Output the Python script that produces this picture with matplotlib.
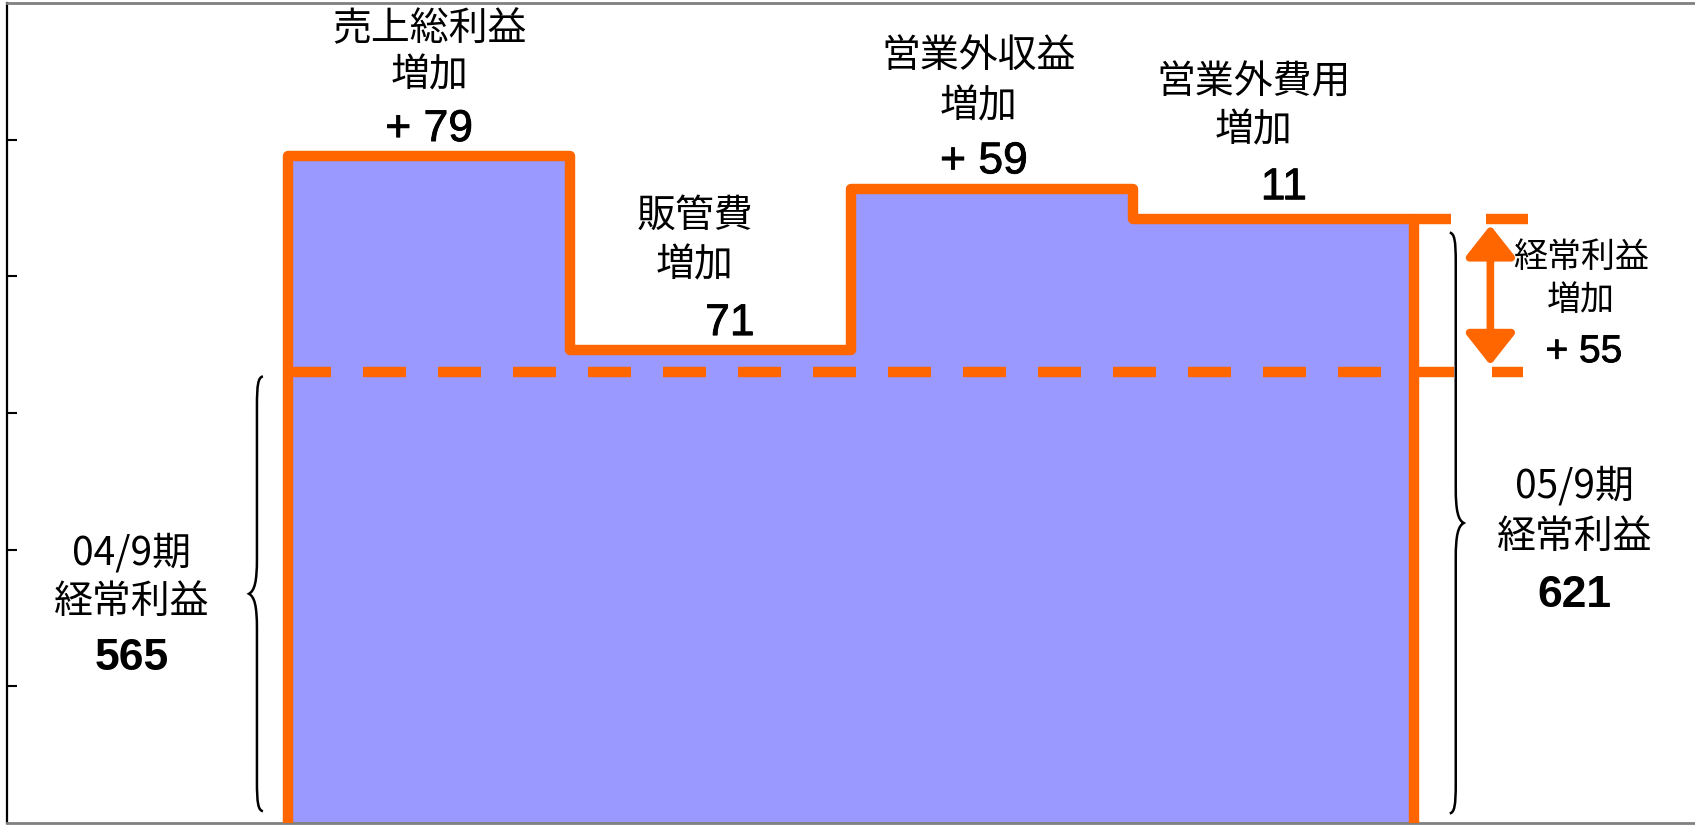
import numpy as np
import matplotlib.pyplot as plt
import matplotlib.patheffects as pe
from matplotlib.patches import FancyArrowPatch, PathPatch
from matplotlib.path import Path

# 経常利益の増減要因 (04/9期 -> 05/9期)
base_profit = 565
step_names = [["売上総利益", "増加"], ["販管費", "増加"], ["営業外収益", "増加"], ["営業外費用", "増加"]]
step_deltas = [79, -71, 59, -11]
increase_text = "+ 55"
prev_label = ["04/9期", "経常利益"]
curr_label = ["05/9期", "経常利益"]
y_ticks = [450, 500, 550, 600, 650]
y_floor, y_ceiling = 400, 700

ORANGE = "#FF6600"
FILL = "#9999FF"
CJK = ["Noto Sans CJK JP", "DejaVu Sans"]
NUM = ["Liberation Sans", "DejaVu Sans"]

levels = base_profit + np.cumsum(step_deltas)
final_profit = levels[-1]
edges = np.arange(1, len(step_deltas) + 2)
centers = edges[:-1] + 0.5

fig = plt.figure(figsize=(16.95, 8.25), dpi=100)
ax = fig.add_axes([7 / 1695, 2 / 825, 1 - 7 / 1695 + 0.0005, 820 / 825])
ax.set_xlim(0, 6)
ax.set_ylim(y_floor, y_ceiling)

# filled columns and the stepped outline
ax.bar(centers, levels - y_floor, bottom=y_floor, width=1.0, color=FILL, linewidth=0, zorder=1)
xs = np.repeat(edges, 2)
ys = np.concatenate([[y_floor], np.repeat(levels, 2), [y_floor]])
ax.plot(xs, ys, color=ORANGE, lw=7.5, solid_joinstyle="round", solid_capstyle="butt", zorder=4)

# previous-period level as a dashed line
dash, = ax.plot([edges[0], edges[-1]], [base_profit, base_profit], color=ORANGE, lw=7.5, zorder=3)
dash.set_dashes([4.13, 3.07])
dash.set_dash_capstyle("butt")

# stubs and caps for the increase marker
ax.plot([edges[-1], 5.13], [final_profit, final_profit], color=ORANGE, lw=7.5, solid_capstyle="butt", zorder=4)
ax.plot([edges[-1], 5.14], [base_profit, base_profit], color=ORANGE, lw=7.5, solid_capstyle="butt", zorder=4)
ax.plot([5.255, 5.405], [final_profit, final_profit], color=ORANGE, lw=7.5, solid_capstyle="butt", zorder=4)
ax.plot([5.275, 5.385], [base_profit, base_profit], color=ORANGE, lw=7.5, solid_capstyle="butt", zorder=4)
arrow = FancyArrowPatch((5.27, base_profit + 2.5), (5.27, final_profit - 2.3),
                        arrowstyle="<|-|>,head_length=19,head_width=15",
                        mutation_scale=1, color=ORANGE, lw=5.5, shrinkA=0, shrinkB=0, zorder=4)
ax.add_patch(arrow)


def curly_brace(x, y_top, y_bot, side, depth=8, curl=6):
    # build the brace in pixels, then map back to data coordinates
    tr = ax.transData
    (xp, yt), (_, yb) = tr.transform([(x, y_top), (x, y_bot)])
    ym = (yt + yb) / 2
    tip = xp + side * depth
    end = xp - side * curl
    verts = [
        (end, yt),
        (xp - side * curl * 0.2, yt - 1), (xp, yt - 8), (xp, yt - 30),
        (xp, ym + 35),
        (xp, ym + 12), (xp + side * depth * 0.3, ym + 3), (tip, ym),
        (xp + side * depth * 0.3, ym - 3), (xp, ym - 12), (xp, ym - 35),
        (xp, yb + 30),
        (xp, yb + 8), (xp - side * curl * 0.2, yb + 1), (end, yb),
    ]
    codes = [Path.MOVETO] + [Path.CURVE4] * 3 + [Path.LINETO] + [Path.CURVE4] * 6 + \
            [Path.LINETO] + [Path.CURVE4] * 3
    verts = tr.inverted().transform(verts)
    ax.add_patch(PathPatch(Path(verts, codes), fill=False, lw=1.8, color="black", zorder=5))


curly_brace(0.888, base_profit - 1.6, 404.3, side=-1)
curly_brace(5.147, final_profit - 5, 403.5, side=1)


def cjk(x, y, s, size=28):
    ax.text(x, y, s, ha="center", va="center", fontsize=size, family=CJK, zorder=6)


def num(x, y, s, size=32, weight="normal"):
    t = ax.text(x, y, s, ha="center", va="baseline", fontsize=size, family=NUM,
                fontweight=weight, zorder=6)
    if weight == "normal":
        # a touch heavier than the plain regular face
        t.set_path_effects([pe.withStroke(linewidth=0.6, foreground="black")])


def delta_text(d):
    return f"+ {d}" if d > 0 else f"{-d}"


# step labels: name lines and value
name_pos = [(1.5, 690.4, 673.6), (2.444, 622.0, 604.1), (3.453, 680.6, 662.3), (4.430, 671.0, 653.5)]
value_pos = [(1.5, 649.5), (2.568, 578.5), (3.471, 637.7), (4.536, 628.2)]
for names, (nx, y1, y2), (vx, vy), d in zip(step_names, name_pos, value_pos, step_deltas):
    cjk(nx, y1, names[0])
    cjk(nx, y2, names[1])
    num(vx, vy, delta_text(d))

# increase marker label
cjk(5.591, 607.0, "経常利益", size=24.5)
cjk(5.591, 591.3, "増加", size=24.5)
num(5.602, 568.6, increase_text, size=28)

# period totals
cjk(0.444, 498.7, prev_label[0])
cjk(0.444, 480.7, prev_label[1])
num(0.444, 455.9, f"{base_profit}", weight="bold")
cjk(5.570, 523.2, curr_label[0])
cjk(5.570, 504.5, curr_label[1])
num(5.570, 478.9, f"{final_profit}", weight="bold")

# frame
ax.set_xticks([])
ax.set_yticks(y_ticks)
ax.set_yticklabels([])
ax.tick_params(axis="y", direction="in", length=7, width=1.5, color="black")
ax.spines["right"].set_visible(False)
ax.spines["left"].set_color("black")
ax.spines["left"].set_linewidth(1.6)
for side in ["top", "bottom"]:
    ax.spines[side].set_color("#808080")
    ax.spines[side].set_linewidth(2)

fig.savefig("out.png", dpi=100)
